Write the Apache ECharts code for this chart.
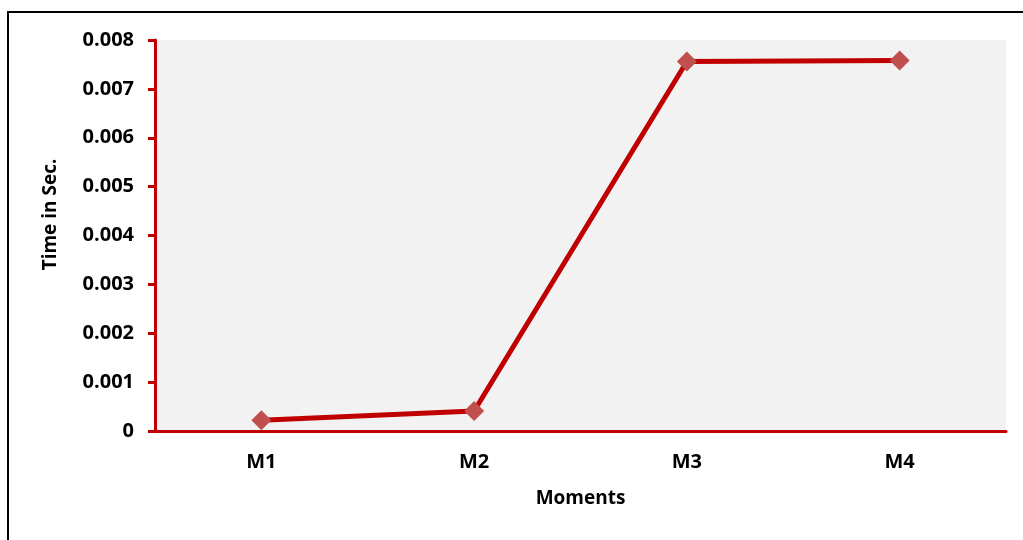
<!DOCTYPE html>
<html>
<head>
<meta charset="utf-8">
<style>
  html, body { margin: 0; padding: 0; background: #fff; }
  #chart { width: 1023px; height: 540px; }
</style>
<script src="https://cdn.jsdelivr.net/npm/echarts@6/dist/echarts.min.js"></script>
</head>
<body>
<div id="chart"></div>
<script>
// Response time for each moment
const moments = ['M1', 'M2', 'M3', 'M4'];
const timeInSec = [0.00022, 0.00041, 0.00756, 0.00758];
const yTicks = [0, 0.001, 0.002, 0.003, 0.004, 0.005, 0.006, 0.007, 0.008];

const font = '"Open Sans", Lato, sans-serif';
const axisRed = '#c00000';

const chart = echarts.init(document.getElementById('chart'));
chart.setOption({
  animation: false,
  backgroundColor: '#ffffff',
  graphic: [{
    type: 'rect',
    shape: { x: 8, y: 12, width: 1030, height: 540 },
    style: { fill: 'none', stroke: '#000', lineWidth: 2 },
    silent: true
  }],
  grid: {
    left: 155, top: 40, right: 17, bottom: 109,
    show: true, backgroundColor: '#f2f2f2', borderWidth: 0
  },
  xAxis: {
    type: 'category',
    data: moments,
    boundaryGap: true,
    name: 'Moments',
    nameLocation: 'middle',
    nameGap: 58,
    nameTextStyle: { fontFamily: font, fontWeight: 'bold', fontSize: 19, color: '#000' },
    axisLine: { lineStyle: { color: axisRed, width: 3 } },
    axisTick: { show: false },
    axisLabel: { fontFamily: font, fontWeight: 'bold', fontSize: 20, color: '#000', margin: 21 },
    splitLine: { show: false }
  },
  yAxis: {
    type: 'value',
    min: yTicks[0],
    max: yTicks[yTicks.length - 1],
    interval: yTicks[1] - yTicks[0],
    name: 'Time in Sec.',
    nameLocation: 'middle',
    nameGap: 95,
    nameRotate: 90,
    nameTextStyle: { fontFamily: font, fontWeight: 'bold', fontSize: 19, color: '#000', padding: [0, 0, 0, 42] },
    axisLine: { show: true, lineStyle: { color: axisRed, width: 3 } },
    axisTick: { show: true, length: 7, lineStyle: { color: axisRed, width: 3 } },
    axisLabel: {
      fontFamily: font, fontWeight: 'bold', fontSize: 20, color: '#000', margin: 21,
      formatter: v => String(+v.toFixed(3))
    },
    splitLine: { show: false }
  },
  series: [{
    type: 'line',
    data: timeInSec,
    symbol: 'diamond',
    symbolSize: 20,
    lineStyle: { color: '#c00000', width: 5 },
    itemStyle: { color: '#c0504d' },
    z: 3
  }]
});
</script>
</body>
</html>
